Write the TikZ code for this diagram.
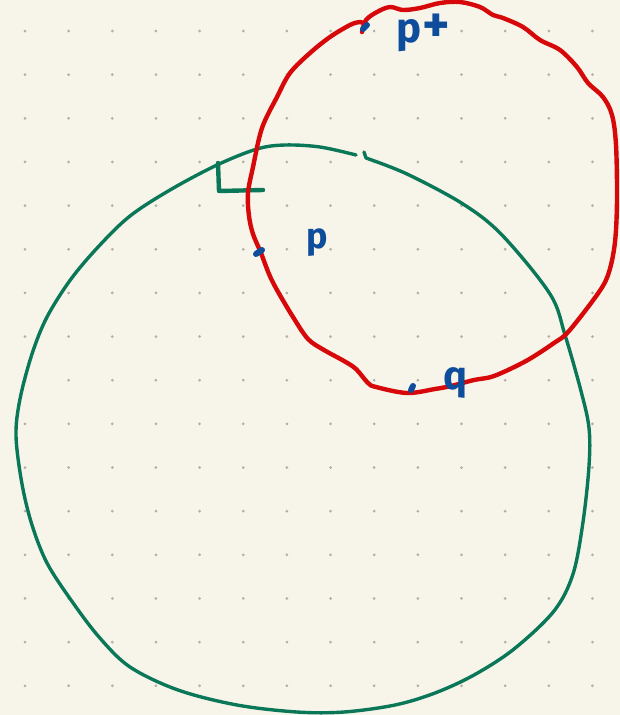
\documentclass[tikz,border=0pt]{standalone}
\usepackage{fontspec}
\usetikzlibrary{calc}
\newfontfamily\handfont{Fira Sans}
\definecolor{paper}{RGB}{247,245,234}
\definecolor{griddot}{RGB}{178,176,166}
\definecolor{pengreen}{RGB}{10,120,88}
\definecolor{penred}{RGB}{214,8,10}
\definecolor{penblue}{RGB}{14,76,156}
\tikzset{
  greenpen/.style={draw=pengreen,line width=3.4pt,line cap=round,line join=round},
  redpen/.style={draw=penred,line width=4.4pt,line cap=round,line join=round},
  bluepen/.style={draw=penblue,line width=6pt,line cap=round},
  handlabel/.style={text=penblue,inner sep=0pt,anchor=base west,font=\handfont\bfseries}
}
\begin{document}
\begin{tikzpicture}[x=1pt,y=-1pt]
\useasboundingbox (0,0) rectangle (620,715);
\fill[paper] (0,0) rectangle (620,715);
% dot grid
\foreach \i in {0,...,13}{
  \foreach \j in {0,...,15}{
    \fill[griddot] ({25+43.65*\i},{31+43.65*\j}) circle (1.5);
  }
}
% green circle (open, with small gap at the top)
\draw[greenpen] (364,152) -- (366,158)
  plot[smooth,tension=0.55] coordinates {(366,158) (407,174) (463,204) (502,235) (550,294) (565,335) (581,391) (589,428) (589,466) (583,522) (573,574) (554,611) (514,649) (474,675) (435,693) (395,705) (344,712) (297,712) (237,705) (178,690) (130,667) (99,637) (71,600) (47,563) (32,525) (22,484) (16,436) (20,399) (32,354) (47,317) (71,279) (99,246) (130,216) (170,190) (217,165) (257,149) (285,145) (320,147) (356,155)};
% right-angle mark
\draw[greenpen,line width=4.4pt] (218,163) -- (219,191) -- (263,190);
% red circle
\draw[redpen] plot[smooth,tension=0.55] coordinates {(362,32) (366,20) (377,12) (390,7) (403,10) (420,8) (440,3) (460,2) (480,7) (493,15) (503,18) (523,27) (540,40) (560,50) (577,67) (588,83) (603,97) (612,115) (616,145) (617,200) (615,242) (609,272) (599,292) (569,331) (554,343) (526,361) (494,376) (474,380) (451,386) (435,389) (407,393) (376,387) (368,383) (356,369) (344,361) (324,350) (308,339) (293,317) (277,290) (269,274) (261,253) (253,234) (249,216) (248,193) (253,167) (262,128) (277,97) (290,73) (310,53) (330,37) (350,25) (360,22) (366,24)};
% points
\coordinate (pplus) at (365,27);
\coordinate (pp) at (259,252);
\coordinate (qq) at (412,388);
\draw[bluepen] ($(pplus)+(-2,2)$) -- ($(pplus)+(2,-2)$);
\draw[bluepen] ($(pp)+(-3,2)$) -- ($(pp)+(3,-2)$);
\draw[bluepen] ($(qq)+(-1,2)$) -- ($(qq)+(1,-2)$);
% labels
\node[handlabel,font=\handfont\bfseries\fontsize{42}{42}\selectfont] (lpplus) at (396,42) {p\kern1pt{\fontsize{52}{52}\selectfont+}};
\node[handlabel,font=\handfont\bfseries\fontsize{36}{36}\selectfont] (lp) at (306,248) {p};
\node[handlabel,font=\handfont\bfseries\fontsize{40}{40}\selectfont] (lq) at (443,389) {q};
\end{tikzpicture}
\end{document}
